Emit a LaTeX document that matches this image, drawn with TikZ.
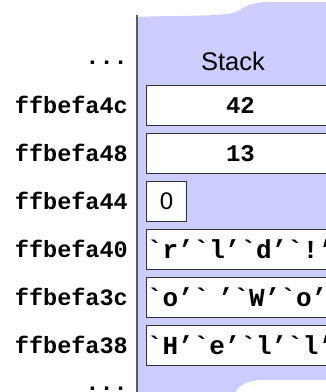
\documentclass[tikz,border=0pt]{standalone}
\usepackage{fontspec}
\newfontfamily\lmono{Liberation Mono}
\newfontfamily\lsans{Liberation Sans}
\definecolor{lav}{RGB}{204,204,255}
\definecolor{edge}{RGB}{90,90,90}
\definecolor{boxedge}{RGB}{50,50,50}
\tikzset{
  addr/.style={anchor=east, inner sep=0pt, font=\lmono\bfseries\fontsize{23.5}{23.5}\selectfont},
  cell/.style={draw=boxedge, line width=0.9pt, fill=white, anchor=north west,
    minimum height=40pt, inner ysep=0pt, font=\lmono\bfseries\fontsize{24}{24}\selectfont},
  widecell/.style={cell, text width=186pt, inner xsep=1pt, align=center},
  strcell/.style={cell, text width=186pt, inner xsep=0.5pt, align=left,
    font=\lmono\bfseries\fontsize{26}{26}\selectfont},
}
\begin{document}
\begin{tikzpicture}[x=1pt,y=-1pt]
\useasboundingbox (0,0) rectangle (326,392);
\clip (0,0) rectangle (326,392);
% stack region
\fill[lav] (137,17) .. controls (180,15) and (222,17) .. (236,12)
  .. controls (244,8) and (248,3) .. (266,2) -- (340,2) -- (340,380)
  -- (264,380) .. controls (248,380) and (240,384) .. (234,394) -- (137,394) -- cycle;
\draw[edge, line width=1.4pt] (137,15) -- (137,394);
\node[anchor=base, inner sep=0pt, font=\lsans\fontsize{25.5}{25.5}\selectfont] (title) at (233,70) {Stack};
% cells
\node[widecell] (c4c) at (146,85) {42};
\node[widecell] (c48) at (146,133) {13};
\node[cell, minimum width=40pt, inner xsep=0pt, font=\lsans\fontsize{24}{24}\selectfont] (c44) at (146,181) {0};
\node[strcell] (c40) at (146,229) {`r’`l’`d’`!’};
\node[strcell] (c3c) at (146,277) {`o’` ’`W’`o’};
\node[strcell] (c38) at (146,325) {`H’`e’`l’`l’};
% addresses
\node[addr, anchor=base east] (dtop) at (128,64) {...};
\node[addr] (a4c) at (128,105) {ffbefa4c};
\node[addr] (a48) at (128,153) {ffbefa48};
\node[addr] (a44) at (128,201) {ffbefa44};
\node[addr] (a40) at (128,249) {ffbefa40};
\node[addr] (a3c) at (128,297) {ffbefa3c};
\node[addr] (a38) at (128,345) {ffbefa38};
\node[addr, anchor=base east] (dbot) at (128,390.5) {...};
\end{tikzpicture}
\end{document}
